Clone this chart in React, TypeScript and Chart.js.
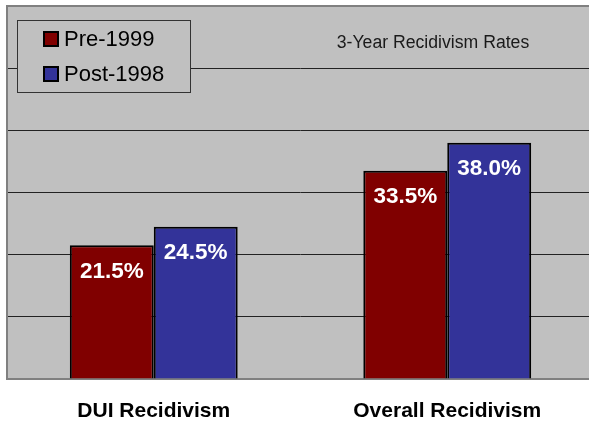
import React, { useEffect, useRef } from "react";
import { Chart, registerables } from "chart.js";

Chart.register(...registerables);

const categories = ["DUI Recidivism", "Overall Recidivism"];
const seriesNames = ["Pre-1999", "Post-1998"];
const preValues = [21.5, 33.5];
const postValues = [24.5, 38.0];
const valueLabels = [["21.5%", "33.5%"], ["24.5%", "38.0%"]];
const chartTitle = "3-Year Recidivism Rates";
const colors = ["#800000", "#333399"];

const plotPlugin = {
  id: "plotDecor",
  beforeDraw(chart: any) {
    const { ctx, chartArea } = chart;
    ctx.save();
    ctx.fillStyle = "#C0C0C0";
    ctx.fillRect(chartArea.left, chartArea.top, chartArea.right - chartArea.left, chartArea.bottom - chartArea.top);
    ctx.restore();
  },
  beforeDatasetsDraw(chart: any) {
    const { ctx, chartArea } = chart;
    ctx.save();
    ctx.strokeStyle = "#808080";
    ctx.lineWidth = 2;
    ctx.strokeRect(chartArea.left, chartArea.top, chartArea.right - chartArea.left + 10, chartArea.bottom - chartArea.top);
    ctx.restore();
  },
  afterDatasetsDraw(chart: any) {
    const { ctx } = chart;
    ctx.save();
    ctx.fillStyle = "#ffffff";
    ctx.font = "bold 22.5px 'Liberation Sans', Arial, sans-serif";
    ctx.textAlign = "center";
    ctx.textBaseline = "middle";
    chart.data.datasets.forEach((ds: any, di: number) => {
      const meta = chart.getDatasetMeta(di);
      meta.data.forEach((bar: any, i: number) => {
        ctx.fillText(valueLabels[di][i], bar.x, bar.y + 26);
      });
    });
    ctx.restore();
  },
  afterDraw(chart: any) {
    const { ctx } = chart;
    const xScale = chart.scales.x;
    ctx.save();
    // category labels
    ctx.fillStyle = "#000000";
    ctx.font = "bold 21px 'Liberation Sans', Arial, sans-serif";
    ctx.textAlign = "center";
    ctx.textBaseline = "middle";
    categories.forEach((c, i) => {
      ctx.fillText(c, xScale.getPixelForValue(i), 411);
    });
    // title
    ctx.fillStyle = "#1a1a1a";
    ctx.font = "18px 'Liberation Sans', Arial, sans-serif";
    ctx.textAlign = "center";
    ctx.textBaseline = "middle";
    ctx.save();
    ctx.translate(433, 43);
    ctx.scale(0.98, 1);
    ctx.fillText(chartTitle, 0, 0);
    ctx.restore();
    // legend
    ctx.fillStyle = "#C0C0C0";
    ctx.fillRect(17.5, 20.5, 173, 72);
    ctx.strokeStyle = "#333333";
    ctx.lineWidth = 1;
    ctx.strokeRect(17.5, 20.5, 173, 72);
    const ys = [39, 74];
    seriesNames.forEach((name, i) => {
      ctx.fillStyle = colors[i];
      ctx.fillRect(44, ys[i] - 7, 14, 14);
      ctx.strokeStyle = "#000000";
      ctx.lineWidth = 2;
      ctx.strokeRect(44, ys[i] - 7, 14, 14);
      ctx.fillStyle = "#000000";
      ctx.font = "22px 'Liberation Sans', Arial, sans-serif";
      ctx.textAlign = "left";
      ctx.textBaseline = "middle";
      ctx.fillText(name, 64, ys[i] + 1);
    });
    ctx.restore();
  },
};

export default function App() {
  const ref = useRef<HTMLCanvasElement | null>(null);
  useEffect(() => {
    if (!ref.current) return;
    const chart = new Chart(ref.current, {
      type: "bar",
      data: {
        labels: categories,
        datasets: [
          {
            label: seriesNames[0],
            data: preValues,
            backgroundColor: colors[0],
            borderColor: "#000000",
            borderWidth: 2,
            categoryPercentage: 0.572,
            barPercentage: 1,
          },
          {
            label: seriesNames[1],
            data: postValues,
            backgroundColor: colors[1],
            borderColor: "#000000",
            borderWidth: 2,
            categoryPercentage: 0.572,
            barPercentage: 1,
          },
        ],
      },
      options: {
        animation: false,
        responsive: false,
        maintainAspectRatio: false,
        layout: { padding: { left: 7, top: 6, right: 0, bottom: 44 } },
        plugins: { legend: { display: false }, tooltip: { enabled: false }, title: { display: false } },
        scales: {
          x: {
            grid: { display: false, drawTicks: false },
            border: { display: false },
            ticks: { display: false },
          },
          y: {
            min: 0,
            max: 60,
            ticks: { display: false, stepSize: 10 },
            grid: {
              drawTicks: false,
              color: (c: any) => (c.tick && (c.tick.value === 0 || c.tick.value === 60) ? "rgba(0,0,0,0)" : "#222222"),
              lineWidth: 1,
            },
            border: { display: false },
          },
        },
      },
      plugins: [plotPlugin],
    });
    return () => chart.destroy();
  }, []);
  return (
    <div style={{ position: "fixed", left: 0, top: 0, width: 589, height: 423, overflow: "hidden", background: "#fff" }}>
      <canvas ref={ref} width={594} height={423} style={{ display: "block", width: 594, height: 423 }} />
    </div>
  );
}
